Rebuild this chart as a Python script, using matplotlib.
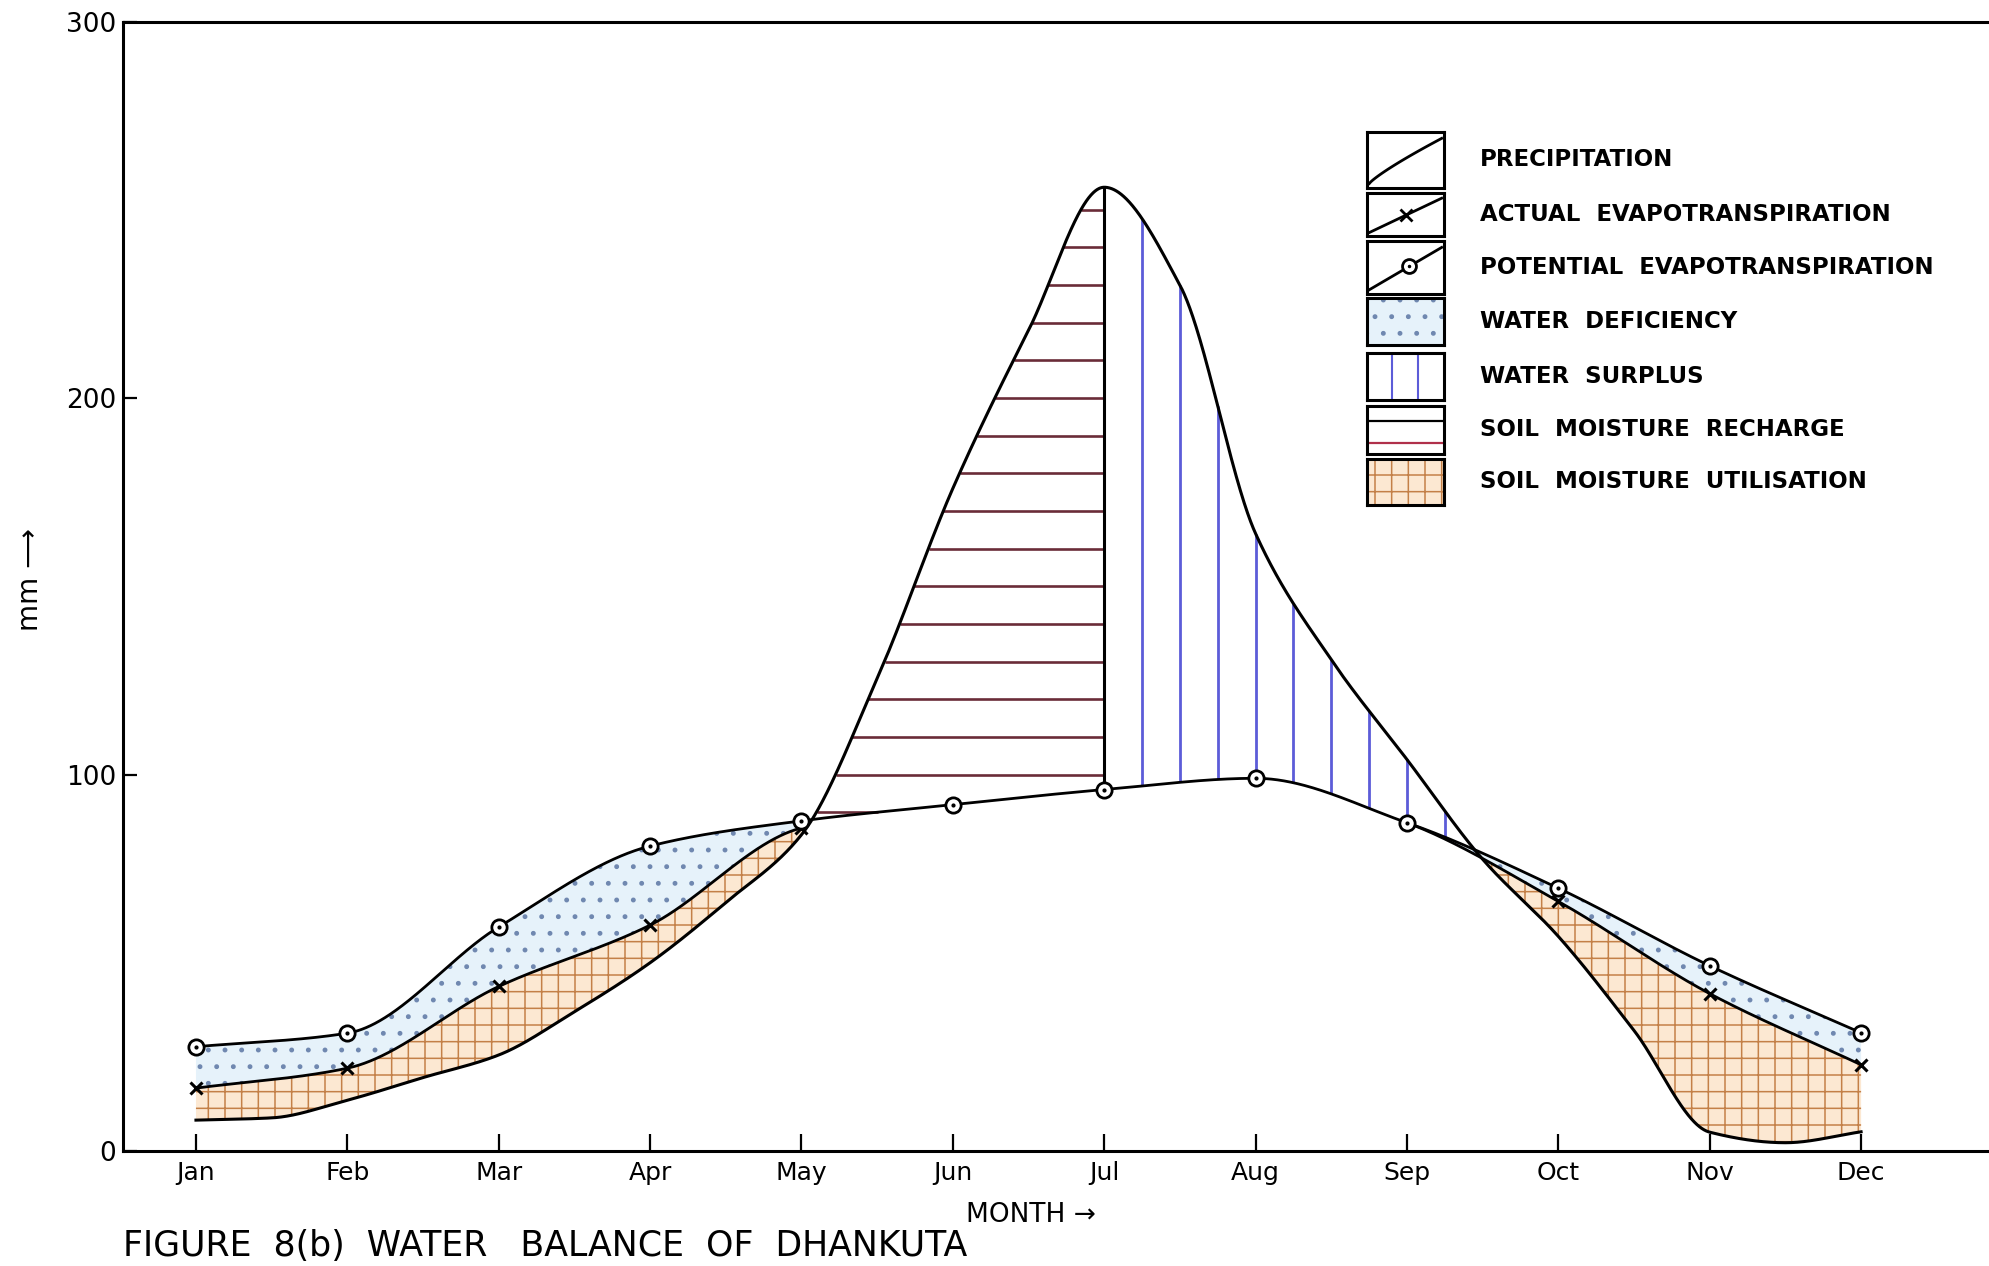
import numpy as np
import matplotlib
matplotlib.use('Agg')
import matplotlib.pyplot as plt
from matplotlib.patches import Rectangle

# ---------------- data (mm) ----------------
months = ['Jan', 'Feb', 'Mar', 'Apr', 'May', 'Jun', 'Jul', 'Aug', 'Sep', 'Oct', 'Nov', 'Dec']
# potential evapotranspiration, monthly
pet = [27.7, 31.3, 59.5, 81.0, 87.7, 92.0, 96.0, 99.0, 87.2, 69.8, 49.2, 31.4]
# actual evapotranspiration, monthly
aet = [16.7, 22.0, 43.7, 60.0, 85.8, 92.0, 96.0, 99.0, 87.2, 66.3, 41.8, 22.9]
# precipitation curve read every half month (Jan, mid Jan-Feb, Feb, ... Dec)
precip_half = [8.2, 8.8, 13.5, 19.5, 25.5, 37.0, 50.0, 66.0, 84.0, 125.5, 176.0, 218.0,
               256.0, 230.0, 164.0, 130.5, 104.0, 77.5, 57.0, 32.0, 5.0, 2.2, 5.1]
yticks = [0, 100, 200, 300]
legend_labels = ['PRECIPITATION', 'ACTUAL  EVAPOTRANSPIRATION', 'POTENTIAL  EVAPOTRANSPIRATION',
                 'WATER  DEFICIENCY', 'WATER  SURPLUS', 'SOIL  MOISTURE  RECHARGE',
                 'SOIL  MOISTURE  UTILISATION']
title = 'FIGURE  8(b)  WATER   BALANCE  OF  DHANKUTA'

# ---------------- helpers ----------------
def pchip(x, y, xs):
    x = np.asarray(x, float); y = np.asarray(y, float)
    h = np.diff(x); d = np.diff(y) / h
    m = np.zeros_like(y)
    for k in range(1, len(y) - 1):
        if d[k - 1] * d[k] > 0:
            w1 = 2 * h[k] + h[k - 1]; w2 = h[k] + 2 * h[k - 1]
            m[k] = (w1 + w2) / (w1 / d[k - 1] + w2 / d[k])
    m[0] = d[0]; m[-1] = d[-1]
    idx = np.clip(np.searchsorted(x, xs) - 1, 0, len(x) - 2)
    t = (xs - x[idx]) / h[idx]
    h00 = 2 * t**3 - 3 * t**2 + 1; h10 = t**3 - 2 * t**2 + t
    h01 = -2 * t**3 + 3 * t**2; h11 = t**3 - t**2
    return h00 * y[idx] + h10 * h[idx] * m[idx] + h01 * y[idx + 1] + h11 * h[idx] * m[idx + 1]

W, H = 1989, 1266
fig = plt.figure(figsize=(W / 100, H / 100), dpi=100)
plt.rcParams['hatch.linewidth'] = 1.1

ax = fig.add_axes([123 / W, 1 - 1151 / H, 1 - 123 / W, (1151 - 21.6) / H])
mx = np.arange(len(months))
px = np.arange(len(precip_half)) / 2.0
xs = np.linspace(0, len(months) - 1, 4401)
P = pchip(px, precip_half, xs)
PE = pchip(mx, pet, xs)
AE = pchip(mx, aet, xs)

side = (xs <= 4.05) | (xs >= 8.0)
# water deficiency
ax.fill_between(xs, AE, PE, where=side & (PE > AE + 0.05), interpolate=True,
                facecolor='#e6f2fa', edgecolor='#7088b0', hatch='.', linewidth=0, zorder=1)
# soil moisture utilisation
ax.fill_between(xs, P, AE, where=side & (AE > P), interpolate=True,
                facecolor='#fce8d2', edgecolor='#c48048', hatch='+', linewidth=0, zorder=1)

# soil moisture recharge: horizontal lines every 10 mm
for lev in np.arange(90, 260, 10):
    mask = (P > lev) & (PE < lev) & (xs >= 4) & (xs <= 6)
    if mask.any():
        ax.hlines(lev, xs[mask].min(), xs[mask].max(), color='#6a2c38', lw=1.9, zorder=2)
# boundary at Jul
ax.vlines(6, np.interp(6, xs, PE), np.interp(6, xs, P), color='k', lw=2.2, zorder=3)
# water surplus: vertical lines
for xv in np.arange(6.25, 9.0, 0.25):
    lo = np.interp(xv, xs, PE); hi = np.interp(xv, xs, P)
    if hi > lo + 1:
        ax.vlines(xv, lo, hi, color='#5c5cd8', lw=2.0, zorder=2)

# curves
ax.plot(xs, P, color='k', lw=2.2, zorder=4)
ax.plot(xs, PE, color='k', lw=2.0, zorder=4)
AEm = np.where((xs <= 4.0) | (xs >= 8.0), AE, np.nan)
ax.plot(xs, AEm, color='k', lw=2.0, zorder=4)
ae_idx = [0, 1, 2, 3, 4, 9, 10, 11]
ax.plot(mx[ae_idx], np.array(aet)[ae_idx], ls='none', marker='x', ms=9, mew=2.2, color='k', zorder=5)
ax.plot(mx, pet, ls='none', marker='o', ms=11, mfc='white', mec='k', mew=2.0, zorder=6)
ax.plot(mx, pet, ls='none', marker='.', ms=4, color='k', zorder=7)

# axes styling
ax.set_xlim(-0.482, 11.845)
ax.set_ylim(0, 300)
ax.set_xticks(mx)
ax.set_xticklabels(months, fontsize=18)
ax.set_yticks(yticks)
ax.set_yticklabels([str(v) for v in yticks], fontsize=19)
ax.tick_params(axis='x', direction='in', length=12, width=1.6, pad=7)
ax.tick_params(axis='y', direction='in', length=10, width=1.6, pad=5)
for s in ['left', 'bottom', 'top']:
    ax.spines[s].set_linewidth(2.2)
ax.spines['right'].set_visible(False)
ax.patch.set_visible(False)

# texts
fig.text(30 / W, 1 - 580 / H, 'mm \u27f6', rotation=90, ha='center', va='center', fontsize=20)
fig.text(1031 / W, 1 - 1215 / H, 'MONTH \u2192', ha='center', va='center', fontsize=19)
fig.text(123 / W, 1 - 1246 / H, title, ha='left', va='center', fontsize=25)

# legend
rows = [(132, 188), (193, 236), (241, 294), (298, 345), (353, 400), (406, 454), (459, 505)]
bx0, bx1 = 1367, 1444
for i, ((y0, y1), lab) in enumerate(zip(rows, legend_labels)):
    la = fig.add_axes([bx0 / W, 1 - y1 / H, (bx1 - bx0) / W, (y1 - y0) / H])
    la.set_xlim(0, 1); la.set_ylim(0, 1)
    la.set_xticks([]); la.set_yticks([])
    for s in la.spines.values():
        s.set_linewidth(2.2)
    t = np.linspace(0.03, 0.97, 50)
    if i == 0:
        la.plot(t, 0.08 + 0.85 * (t - 0.03) ** 0.85, color='k', lw=2)
    elif i == 1:
        la.plot(t, 0.08 + 0.85 * (t - 0.03), color='k', lw=2)
        la.plot([0.5], [0.48], marker='x', ms=8, mew=2, color='k')
    elif i == 2:
        la.plot(t, 0.08 + 0.85 * (t - 0.03), color='k', lw=2)
        la.plot([0.55], [0.52], marker='o', ms=10, mfc='white', mec='k', mew=2)
        la.plot([0.55], [0.52], marker='.', ms=3, color='k')
    elif i == 3:
        la.add_patch(Rectangle((0, 0), 1, 1, facecolor='#e6f2fa', edgecolor='#7088b0',
                               hatch='.', lw=0))
    elif i == 4:
        la.vlines([0.33, 0.66], 0, 1, color='#5c5cd8', lw=1.5)
    elif i == 5:
        la.hlines(0.68, 0, 1, color='k', lw=1.6)
        la.hlines(0.22, 0, 1, color='#b0304a', lw=1.6)
    elif i == 6:
        la.add_patch(Rectangle((0, 0), 1, 1, facecolor='#fce8d2', edgecolor='#c48048',
                               hatch='+', lw=0))
    fig.text(1480 / W, 1 - ((y0 + y1) / 2) / H, lab, ha='left', va='center',
             fontsize=16.5, fontweight='bold')

fig.savefig('out.png', dpi=100)
